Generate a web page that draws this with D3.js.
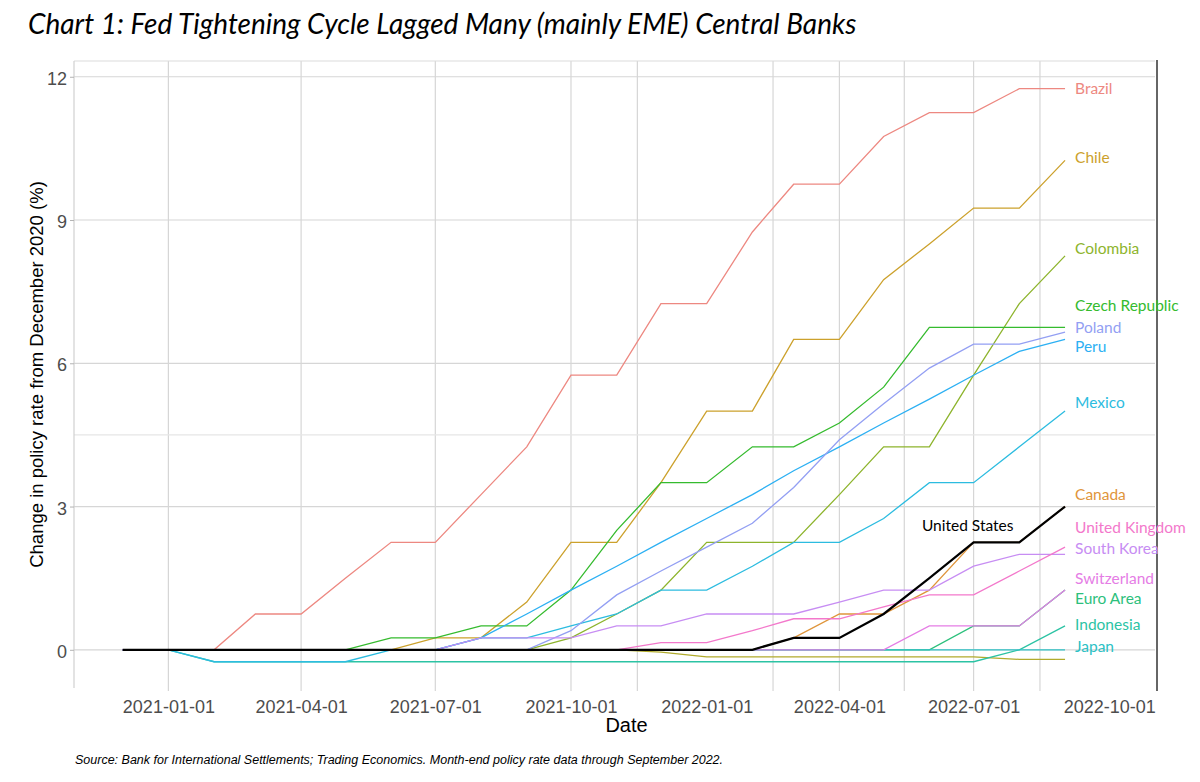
<!DOCTYPE html>
<html>
<head>
<meta charset="utf-8">
<script src="https://cdn.jsdelivr.net/npm/d3@7"></script>
<style>
  body { margin: 0; background: #fff; }
  svg { display: block; }
</style>
</head>
<body>
<div id="chart-area"></div>
<script>

// Data: month-end change in policy rate since Dec 2020 (pp), plotted on the 1st of each month

let months = ["2020-12-01","2021-01-01","2021-02-01","2021-03-01","2021-04-01","2021-05-01",
  "2021-06-01","2021-07-01","2021-08-01","2021-09-01","2021-10-01","2021-11-01","2021-12-01",
  "2022-01-01","2022-02-01","2022-03-01","2022-04-01","2022-05-01","2022-06-01","2022-07-01",
  "2022-08-01","2022-09-01"];

let countries = ["Brazil","Canada","Chile","China","Colombia","Czech Republic","Euro Area",
  "Indonesia","Japan","Mexico","Peru","Poland","South Korea","Switzerland","United Kingdom"];

let brazil      = [0,0,0,0.75,0.75,1.5,2.25,2.25,3.25,4.25,5.75,5.75,7.25,7.25,8.75,9.75,9.75,10.75,11.25,11.25,11.75,11.75];
let canada      = [0,0,0,0,0,0,0,0,0,0,0,0,0,0,0,0.25,0.75,0.75,1.25,2.25,2.25,3.0];
let chile       = [0,0,0,0,0,0,0,0.25,0.25,1.0,2.25,2.25,3.5,5.0,5.0,6.5,6.5,7.75,8.5,9.25,9.25,10.25];
let china       = [0,0,0,0,0,0,0,0,0,0,0,0,-0.05,-0.15,-0.15,-0.15,-0.15,-0.15,-0.15,-0.15,-0.2,-0.2];
let colombia    = [0,0,0,0,0,0,0,0,0,0,0.25,0.75,1.25,2.25,2.25,2.25,3.25,4.25,4.25,5.75,7.25,8.25];
let czech       = [0,0,0,0,0,0,0.25,0.25,0.5,0.5,1.25,2.5,3.5,3.5,4.25,4.25,4.75,5.5,6.75,6.75,6.75,6.75];
let euroArea    = [0,0,0,0,0,0,0,0,0,0,0,0,0,0,0,0,0,0,0,0.5,0.5,1.25];
let indonesia   = [0,0,-0.25,-0.25,-0.25,-0.25,-0.25,-0.25,-0.25,-0.25,-0.25,-0.25,-0.25,-0.25,-0.25,-0.25,-0.25,-0.25,-0.25,-0.25,0,0.5];
let japan       = [0,0,0,0,0,0,0,0,0,0,0,0,0,0,0,0,0,0,0,0,0,0];
let mexico      = [0,0,-0.25,-0.25,-0.25,-0.25,0,0,0.25,0.25,0.5,0.75,1.25,1.25,1.75,2.25,2.25,2.75,3.5,3.5,4.25,5.0];
let peru        = [0,0,0,0,0,0,0,0,0.25,0.75,1.25,1.75,2.25,2.75,3.25,3.75,4.25,4.75,5.25,5.75,6.25,6.5];
let poland      = [0,0,0,0,0,0,0,0,0,0,0.4,1.15,1.65,2.15,2.65,3.4,4.4,5.15,5.9,6.4,6.4,6.65];
let southKorea  = [0,0,0,0,0,0,0,0,0.25,0.25,0.25,0.5,0.5,0.75,0.75,0.75,1.0,1.25,1.25,1.75,2.0,2.0];
let switzerland = [0,0,0,0,0,0,0,0,0,0,0,0,0,0,0,0,0,0,0.5,0.5,0.5,1.25];
let uk          = [0,0,0,0,0,0,0,0,0,0,0,0,0.15,0.15,0.4,0.65,0.65,0.9,1.15,1.15,1.65,2.15];
let us          = [0,0,0,0,0,0,0,0,0,0,0,0,0,0,0,0.25,0.25,0.75,1.5,2.25,2.25,3.0];

let seriesValues = [brazil, canada, chile, china, colombia, czech, euroArea, indonesia,
  japan, mexico, peru, poland, southKorea, switzerland, uk];

let xTickLabels = ["2021-01-01","2021-04-01","2021-07-01","2021-10-01",
  "2022-01-01","2022-04-01","2022-07-01","2022-10-01"];
let yTicks = [0, 3, 6, 9, 12];

// end labels (China is not labelled in the original); value = vertical spot in y units
let endLabels = [
  {name: "Brazil", value: 11.75}, {name: "Chile", value: 10.3}, {name: "Colombia", value: 8.4},
  {name: "Czech Republic", value: 7.2}, {name: "Poland", value: 6.75}, {name: "Peru", value: 6.36},
  {name: "Mexico", value: 5.17}, {name: "Canada", value: 3.26}, {name: "United Kingdom", value: 2.56},
  {name: "South Korea", value: 2.12}, {name: "Switzerland", value: 1.5}, {name: "Euro Area", value: 1.07},
  {name: "Indonesia", value: 0.52}, {name: "Japan", value: 0.06}
];


// ggplot-style hue palette (polarLUV, l=65, c=100), 16 groups with US last
function hueColor(h) {
  let L = 65, C = 100, hr = h * Math.PI / 180;
  let u = C * Math.cos(hr), v = C * Math.sin(hr);
  let Xn = 0.95047, Yn = 1, Zn = 1.08883, dn = Xn + 15 * Yn + 3 * Zn;
  let un = 4 * Xn / dn, vn = 9 * Yn / dn;
  let Y = Yn * Math.pow((L + 16) / 116, 3);
  let up = u / (13 * L) + un, vp = v / (13 * L) + vn;
  let X = 9 * Y * up / (4 * vp);
  let Z = Y * (12 - 3 * up - 20 * vp) / (4 * vp);
  let lin = [3.240479 * X - 1.537150 * Y - 0.498535 * Z,
            -0.969256 * X + 1.875992 * Y + 0.041556 * Z,
             0.055648 * X - 0.204043 * Y + 1.057311 * Z];
  let c = lin.map(function(k) {
    k = k <= 0.0031308 ? 12.92 * k : 1.055 * Math.pow(k, 1 / 2.4) - 0.055;
    return Math.round(255 * Math.max(0, Math.min(1, k)));
  });
  // the reference is a bit washed out, so soften towards grey
  return d3.interpolateRgb(d3.rgb(c[0], c[1], c[2]), "#c8c8c8")(0.22);
}

let color = {};
countries.forEach(function(name, i) { color[name] = hueColor(15 + i * 22.5); });


// SVG drawing area

let svg = d3.select("#chart-area").append("svg")
    .attr("width", 1200)
    .attr("height", 782);

let panel = {left: 74, right: 1155, top: 61, bottom: 688};

let parse = d3.timeParse("%Y-%m-%d");
let fmt = d3.timeFormat("%Y-%m-%d");

let x = d3.scaleTime()
    .domain([new Date(2020, 9, 29), new Date(2022, 10, 1)])
    .range([panel.left, panel.right]);

let y = d3.scaleLinear()
    .domain([-0.8, 12.33])
    .range([panel.bottom, panel.top]);

let dates = months.map(parse);


// Grid

let vMajor = ["2021-01-01","2021-04-01","2021-07-01","2021-10-01","2022-04-01","2022-07-01"].map(parse);
let vMinor = ["2021-11-15","2022-02-15","2022-05-15","2022-08-15"].map(parse);

let grid = svg.append("g").attr("class", "grid");

grid.selectAll(".vgrid")
  .data(vMajor.concat(vMinor))
  .enter().append("line")
    .attr("x1", d => x(d)).attr("x2", d => x(d))
    .attr("y1", panel.top).attr("y2", panel.bottom + 3)
    .attr("stroke", "#d6d6d6")
    .attr("stroke-width", 1.2);

grid.append("line")
    .attr("x1", panel.left).attr("x2", panel.right)
    .attr("y1", y(4.5)).attr("y2", y(4.5))
    .attr("stroke", "#e6e6e6")
    .attr("stroke-width", 1.2);

grid.selectAll(".hgrid")
  .data(yTicks)
  .enter().append("line")
    .attr("x1", panel.left).attr("x2", panel.right)
    .attr("y1", d => y(d)).attr("y2", d => y(d))
    .attr("stroke", "#d6d6d6")
    .attr("stroke-width", 1.2);

// panel borders
grid.append("line")
    .attr("x1", panel.left).attr("x2", panel.right)
    .attr("y1", panel.top).attr("y2", panel.top)
    .attr("stroke", "#dcdcdc").attr("stroke-width", 1.2);
grid.append("line")
    .attr("x1", panel.left).attr("x2", panel.left)
    .attr("y1", panel.top).attr("y2", panel.bottom)
    .attr("stroke", "#d0d0d0").attr("stroke-width", 1.2);
grid.append("line")
    .attr("x1", 1157).attr("x2", 1157)
    .attr("y1", panel.top - 1).attr("y2", panel.bottom + 3)
    .attr("stroke", "#333").attr("stroke-width", 1.5);


// Axes

let xAxis = d3.axisBottom(x)
    .tickValues(xTickLabels.map(parse))
    .tickFormat(fmt)
    .tickSize(0)
    .tickPadding(12);

let yAxis = d3.axisLeft(y)
    .tickValues(yTicks)
    .tickSize(4)
    .tickPadding(3);

let xAxisG = svg.append("g")
    .attr("class", "x-axis axis")
    .attr("transform", "translate(0," + panel.bottom + ")")
    .call(xAxis);

let yAxisG = svg.append("g")
    .attr("class", "y-axis axis")
    .attr("transform", "translate(" + panel.left + ",0)")
    .call(yAxis);

svg.selectAll(".axis .domain").remove();
svg.selectAll(".axis text")
    .style("font-family", "'Liberation Sans', Arial, sans-serif")
    .style("font-size", "18px")
    .attr("fill", "#4d4d4d");
yAxisG.selectAll(".tick line").attr("stroke", "#b3b3b3");
yAxisG.selectAll(".tick text").attr("dy", "0.42em");


// Lines

let line = d3.line()
    .x((d, i) => x(dates[i]))
    .y(d => y(d));

svg.append("g").selectAll(".country-line")
  .data(countries)
  .enter().append("path")
    .attr("class", "country-line")
    .attr("fill", "none")
    .attr("stroke", d => color[d])
    .attr("stroke-width", 1.3)
    .attr("d", (d, i) => line(seriesValues[i]));

svg.append("path")
    .attr("fill", "none")
    .attr("stroke", "#000")
    .attr("stroke-width", 2.2)
    .attr("d", line(us));


// Labels

let labelFont = "Lato, 'Open Sans', sans-serif";

svg.append("g").selectAll(".end-label")
  .data(endLabels)
  .enter().append("text")
    .attr("x", x(parse("2022-09-01")) + 10)
    .attr("y", d => y(d.value))
    .attr("dy", "0.35em")
    .attr("fill", d => color[d.name])
    .style("font-family", labelFont)
    .style("font-size", "15.5px")
    .text(d => d.name);

svg.append("text")
    .attr("x", x(parse("2022-06-27")))
    .attr("y", y(2.6))
    .attr("dy", "0.35em")
    .attr("text-anchor", "middle")
    .attr("fill", "#000")
    .style("font-family", labelFont)
    .style("font-size", "15.5px")
    .text("United States");


// Titles

svg.append("text")
    .attr("x", 28)
    .attr("y", 34)
    .style("font-family", labelFont)
    .style("font-style", "italic")
    .style("font-size", "28px")
    .attr("fill", "#000")
    .text("Chart 1: Fed Tightening Cycle Lagged Many (mainly EME) Central Banks");

svg.append("text")
    .attr("x", (panel.left + panel.right) / 2 + 12)
    .attr("y", 732)
    .attr("text-anchor", "middle")
    .style("font-family", "'Liberation Sans', Arial, sans-serif")
    .style("font-size", "20px")
    .attr("fill", "#000")
    .text("Date");

svg.append("text")
    .attr("transform", "translate(43," + ((panel.top + panel.bottom) / 2) + ") rotate(-90)")
    .attr("text-anchor", "middle")
    .style("font-family", "'Liberation Sans', Arial, sans-serif")
    .style("font-size", "18.5px")
    .attr("fill", "#000")
    .text("Change in policy rate from December 2020 (%)");

svg.append("text")
    .attr("x", 75)
    .attr("y", 764)
    .style("font-family", "'Liberation Sans', Arial, sans-serif")
    .style("font-style", "italic")
    .style("font-size", "12.5px")
    .attr("fill", "#000")
    .text("Source: Bank for International Settlements; Trading Economics. Month-end policy rate data through September 2022.");

</script>
</body>
</html>
